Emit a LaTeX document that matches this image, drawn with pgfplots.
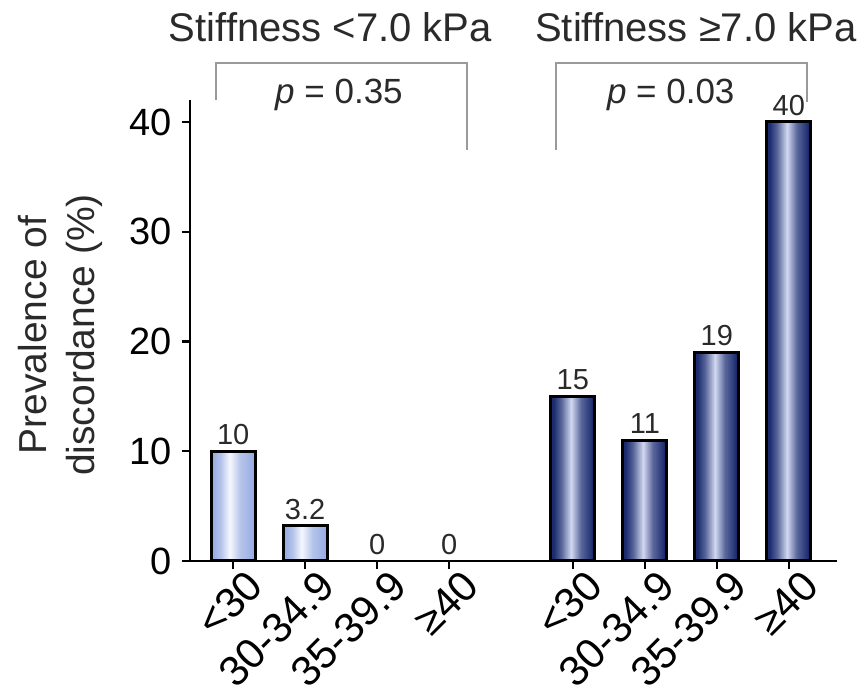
\documentclass[border=0pt]{standalone}
\usepackage{pgfplots}
\pgfplotsset{compat=1.18}
\usepackage{fontspec}
\setmainfont{Liberation Sans}

\definecolor{lightedge}{HTML}{9AAEE2}
\definecolor{lightmid}{HTML}{F6F8FF}
\colorlet{lightsoft}{lightedge!70!lightmid}
\definecolor{darkedge}{HTML}{1B2B6E}
\definecolor{darkmid}{HTML}{D2D8F0}
\colorlet{darksoft}{darkedge!65!darkmid}
\definecolor{bracketgray}{HTML}{9A9A9A}
\definecolor{valtext}{HTML}{2A2A2A}

% narrow highlight a little left of the bar centre
\pgfdeclarehorizontalshading{lowshade}{100bp}{color(0bp)=(lightedge); color(28bp)=(lightedge);
  color(36bp)=(lightsoft); color(46bp)=(lightmid); color(58bp)=(lightsoft); color(72bp)=(lightedge); color(100bp)=(lightedge)}
\pgfdeclarehorizontalshading{highshade}{100bp}{color(0bp)=(darkedge); color(28bp)=(darkedge);
  color(37bp)=(darksoft); color(48bp)=(darkmid); color(59bp)=(darksoft); color(72bp)=(darkedge); color(100bp)=(darkedge)}

% one shaded bar per \addplot, so that every bar gets its own highlight
\pgfplotsset{
  barbase/.style={ybar, bar shift=0pt, draw=black, line width=3pt},
  lowbar/.style={barbase, /tikz/shade, /tikz/shading=lowshade, /tikz/shading angle=0},
  highbar/.style={barbase, /tikz/shade, /tikz/shading=highshade, /tikz/shading angle=0},
}

\begin{document}
\begin{tikzpicture}
\begin{axis}[
  scale only axis,
  width=647pt, height=461pt,
  xmin=-0.6, xmax=8.39,
  ymin=0, ymax=42,
  axis x line*=bottom,
  axis y line*=left,
  axis line style={line width=2.6pt, black},
  xtick={0,1,2,3,4.72,5.72,6.72,7.72},
  xticklabels={<30,30-34.9,35-39.9,≥40,<30,30-34.9,35-39.9,≥40},
  ytick={0,10,20,30,40},
  tick align=outside,
  major tick length=8pt,
  tick style={line width=2.4pt, black},
  /pgf/number format/assume math mode=true,
  ticklabel style={font=\fontsize{38}{40}\selectfont, black},
  y tick label style={inner sep=0pt, xshift=-10pt},
  x tick label style={font=\fontsize{42}{44}\selectfont, rotate=45, anchor=north east,
    inner sep=0pt, xshift=9pt, yshift=-7pt},
  ylabel={Prevalence of\\discordance (\%)},
  ylabel style={align=center, font=\fontsize{39}{48}\selectfont, color=valtext,
    at={(axis description cs:-0.20,0.49)}, anchor=center},
  clip=false,
  bar width=44pt,
  nodes near coords,
  nodes near coords style={font=\fontsize{29}{30}\selectfont, color=valtext, inner sep=5pt},
]
\coordinate (sw) at (rel axis cs:0,0);
% Stiffness < 7.0 kPa
\addplot[lowbar] coordinates {(0,10)};
\addplot[lowbar] coordinates {(1,3.2)};
\addplot[lowbar, draw=none] coordinates {(2,0)};
\addplot[lowbar, draw=none] coordinates {(3,0)};
% Stiffness >= 7.0 kPa
\addplot[highbar] coordinates {(4.72,15)};
\addplot[highbar] coordinates {(5.72,11)};
\addplot[highbar] coordinates {(6.72,19)};
\addplot[highbar] coordinates {(7.72,40)};

% group brackets and test results
\draw[bracketgray, line width=2pt]
  (axis cs:-0.24,42.0) |- (axis cs:3.25,45.4) -- (axis cs:3.25,37.4);
\draw[bracketgray, line width=2pt]
  (axis cs:4.49,37.4) |- (axis cs:7.97,45.4) -- (axis cs:7.97,41.8);
\node[font=\fontsize{35}{40}\selectfont, color=valtext] at (axis cs:1.47,42.5) {\textit{p} = 0.35};
\node[font=\fontsize{35}{40}\selectfont, color=valtext] at (axis cs:6.08,42.5) {\textit{p} = 0.03};
\node[font=\fontsize{40}{44}\selectfont, color=valtext] at (axis cs:1.35,48.6) {Stiffness <7.0 kPa};
\node[font=\fontsize{40}{44}\selectfont, color=valtext] at (axis cs:6.43,48.6) {Stiffness ≥7.0 kPa};
\end{axis}
\pgfresetboundingbox
\path[use as bounding box] ([shift={(-190pt,-126pt)}]sw) rectangle ([shift={(678pt,561pt)}]sw);
\end{tikzpicture}
\end{document}
